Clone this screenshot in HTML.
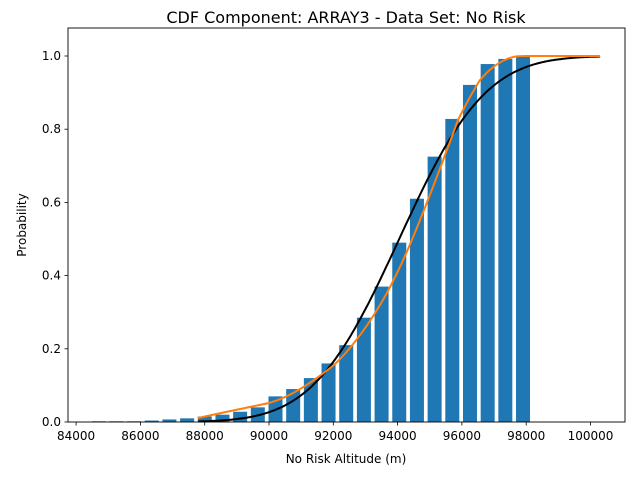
<!DOCTYPE html>
<html><head><meta charset="utf-8"><style>
body{margin:0;background:#fff}
svg{font-family:"DejaVu Sans","Liberation Sans",sans-serif}
</style></head><body>
<svg id="s" width="640" height="480" xmlns="http://www.w3.org/2000/svg">
<rect width="640" height="480" fill="#fff"/>
<g id="bars" fill="#1f77b4"></g>
<path id="blk" fill="none" stroke="#000" stroke-width="2"/>
<path id="org" fill="none" stroke="#ff7f0e" stroke-width="2" d="M198,418 C220,413 250,407 269,403 C290,397 310,384 334,365 C352,348 368,325 380,305 C392,285 405,258 420,220 C433,188 447,150 458,120 C466,104 473,91 480,80 C487,72 495,64 507,59 C512,57 516,56 525,56 L600,56"/>
<rect x="68" y="28" width="557" height="394" fill="none" stroke="#000" stroke-width="0.9"/>
<g id="tk" font-size="12" fill="#000"></g>
<text x="346" y="29" font-size="16" text-anchor="middle" dy="-6">CDF Component: ARRAY3 - Data Set: No Risk</text>
<text x="346" y="463" font-size="12" text-anchor="middle">No Risk Altitude (m)</text>
<text transform="translate(26,225) rotate(-90)" font-size="12" text-anchor="middle">Probability</text>
</svg>
<script>
var NS="http://www.w3.org/2000/svg";
function el(t,a,p){var e=document.createElementNS(NS,t);for(var k in a)e.setAttribute(k,a[k]);p.appendChild(e);return e;}
var h=[0.002,0.002,0.002,0.004,0.007,0.01,0.015,0.02,0.028,0.04,0.07,0.09,0.12,0.16,0.21,0.285,0.37,0.49,0.61,0.725,0.828,0.921,0.978,0.992,1.0];
var b=document.getElementById('bars');
h.forEach(function(v,k){var c=98.7+k*17.68;el('rect',{x:c-7,y:422-v*366,width:14,height:v*366},b);});
function X(v){return 269+(v-90000)*64.3/2000;}
function erf(x){var s=x<0?-1:1;x=Math.abs(x);var t=1/(1+0.3275911*x);var y=1-(((((1.061405429*t-1.453152027)*t)+1.421413741)*t-0.284496736)*t+0.254829592)*t*Math.exp(-x*x);return s*y;}
var d="";for(var v=87800;v<=100300;v+=50){var p=0.5*(1+erf((v-94050)/(2100*Math.SQRT2)));d+=(d?"L":"M")+X(v).toFixed(1)+","+(422-p*366).toFixed(1);}
document.getElementById('blk').setAttribute('d',d);
var g=document.getElementById('tk');
for(var v=84000;v<=100000;v+=2000){var x=X(v);el('line',{x1:x,x2:x,y1:422,y2:425.5,stroke:'#000','stroke-width':0.8},g);var t=el('text',{x:x,y:440,'text-anchor':'middle'},g);t.textContent=v;}
for(var i=0;i<=5;i++){var y=422-i*0.2*366;el('line',{x1:64.5,x2:68,y1:y,y2:y,stroke:'#000','stroke-width':0.8},g);var t=el('text',{x:61,y:y+4,'text-anchor':'end'},g);t.textContent=(i*0.2).toFixed(1);}
</script>
</body></html>
